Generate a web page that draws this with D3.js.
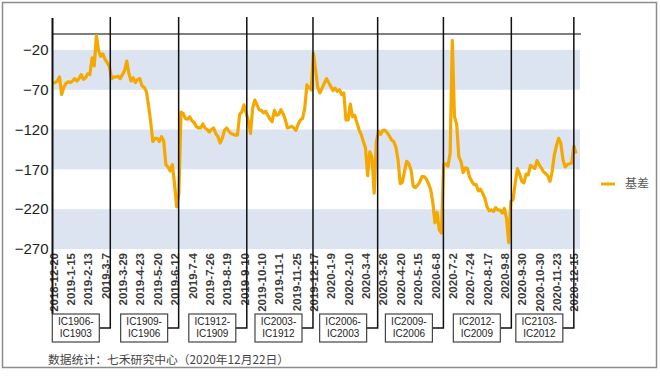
<!DOCTYPE html>
<html>
<head>
<meta charset="utf-8">
<script src="https://cdn.jsdelivr.net/npm/d3@7"></script>
<style>
  body { margin: 0; background: #fff; }
  svg { display: block; }
</style>
</head>
<body>
<script>
// x-axis labels, one every 16 trading days (8 samples)
const tickLabels = [
    "2018-12-20", "2019-1-15", "2019-2-13", "2019-3-7", "2019-3-29", "2019-4-23",
    "2019-5-20", "2019-6-12", "2019-7-4", "2019-7-26", "2019-8-19", "2019-9-10",
    "2019-10-10", "2019-11-1", "2019-11-25", "2019-12-17", "2020-1-9", "2020-2-10",
    "2020-3-4", "2020-3-26", "2020-4-20", "2020-5-15", "2020-6-8", "2020-7-2",
    "2020-7-24", "2020-8-17", "2020-9-8", "2020-9-30", "2020-10-30", "2020-11-23",
    "2020-12-15"
];

// 基差, sampled every 2 trading days
const basis = [
    -61, -61, -59, -54, -76, -67, -62, -60, -61, -59,
    -56, -59, -56, -51, -57, -55, -50, -51, -30, -40,
    -2, -21, -28, -25, -32, -36, -41, -56, -54, -54,
    -53, -56, -51, -46, -34, -50, -59, -55, -61, -57,
    -56, -65, -67, -72, -89, -110, -135, -131, -131, -135,
    -129, -134, -164, -167, -172, -164, -188, -217, -200, -98,
    -100, -106, -107, -104, -109, -111, -116, -118, -118, -113,
    -118, -120, -123, -120, -118, -125, -129, -137, -131, -121,
    -118, -122, -125, -126, -127, -127, -101, -98, -89, -99,
    -109, -125, -93, -83, -89, -95, -96, -99, -97, -102,
    -107, -110, -96, -102, -101, -95, -100, -107, -118, -117,
    -116, -118, -121, -113, -108, -106, -93, -64, -67, -70,
    -24, -45, -67, -74, -68, -62, -56, -61, -66, -71,
    -68, -72, -70, -76, -74, -108, -108, -88, -104, -102,
    -111, -120, -126, -135, -143, -178, -148, -155, -200, -135,
    -122, -126, -121, -121, -124, -128, -133, -135, -142, -158,
    -188, -186, -172, -160, -163, -171, -191, -193, -190, -186,
    -179, -179, -182, -188, -195, -211, -237, -224, -246, -250,
    -164, -163, -166, -150, -8, -104, -113, -154, -160, -174,
    -168, -169, -180, -185, -189, -189, -197, -195, -200, -206,
    -217, -222, -221, -223, -218, -221, -221, -225, -219, -232,
    -262, -210, -208, -187, -169, -176, -185, -187, -176, -177,
    -165, -167, -169, -159, -164, -168, -173, -175, -178, -185,
    -173, -152, -140, -131, -137, -158, -167, -164, -163, -162,
    -141, -150
];

const yTicks = [-20, -70, -120, -170, -220, -270];

// contract roll points (sample index) and the spread that ends there
const rollIdx = [26.4, 57.9, 89.3, 119.8, 149.6, 179.9, 211.2, 240];
const spreads = ["IC1906-IC1903", "IC1909-IC1906", "IC1912-IC1909", "IC2003-IC1912",
                 "IC2006-IC2003", "IC2009-IC2006", "IC2012-IC2009", "IC2103-IC2012"];

const seriesName = "基差";
const source = "数据统计：七禾研究中心（2020年12月22日）";

const orange = "#f4a800";
const band = "#dbe4f0";
const sans = "'Liberation Sans', Arial, sans-serif";

let svg = d3.select("body")
            .append("svg")
            .attr("width", 660)
            .attr("height", 376);

// outer frame
svg.append("rect")
   .attr("x", 2.5).attr("y", 2.5)
   .attr("width", 654).attr("height", 365)
   .style("fill", "#fff")
   .style("stroke", "#8c8c8c")
   .style("stroke-width", 1.5);

const left = 52.5, right = 580;

let x = d3.scaleLinear()
          .domain([0, basis.length - 1])
          .range([53, 576]);
let y = d3.scaleLinear()
          .domain([-270, 0])
          .range([249, 34]);

// alternate blue bands between tick pairs
let bands = [];
for (let i = 0; i < yTicks.length - 1; i += 2) bands.push([yTicks[i], yTicks[i + 1]]);
svg.append("g")
   .selectAll("rect")
   .data(bands)
   .enter()
   .append("rect")
   .attr("x", left)
   .attr("width", right - left)
   .attr("y", d => y(d[0]))
   .attr("height", d => y(d[1]) - y(d[0]))
   .style("fill", band);

// top border at 0
svg.append("line")
   .attr("x1", left).attr("x2", right + 1)
   .attr("y1", y(0)).attr("y2", y(0))
   .style("stroke", "#555")
   .style("stroke-width", 1.5);

// y axis
let yAxis = svg.append("g")
   .attr("transform", "translate(" + left + ",0)")
   .call(d3.axisLeft(y).tickValues(yTicks).tickSize(0).tickPadding(4));
yAxis.select(".domain").remove();
yAxis.selectAll("text")
     .style("font-family", sans)
     .style("font-size", "15px")
     .style("fill", "#222");

// x axis (category labels, rotated)
let xAxis = svg.append("g")
   .attr("transform", "translate(0," + y(-270) + ")")
   .call(d3.axisBottom(x)
           .tickValues(d3.range(0, basis.length, 8))
           .tickFormat((d, i) => tickLabels[i])
           .tickSize(0));
xAxis.select(".domain").remove();
xAxis.selectAll("text")
     .attr("transform", "rotate(-90)")
     .attr("x", -4)
     .attr("y", 0)
     .attr("dy", "0.36em")
     .style("text-anchor", "end")
     .style("font-family", sans)
     .style("font-size", "11.5px")
     .style("font-weight", "bold")
     .style("fill", "#3a3a3a");

// series
let line = d3.line()
             .x((d, i) => x(i))
             .y(d => y(d));
svg.append("path")
   .datum(basis)
   .attr("d", line)
   .style("fill", "none")
   .style("stroke", orange)
   .style("stroke-width", 3.2)
   .style("stroke-linejoin", "round");

// left axis line, running down to the first box
svg.append("line")
   .attr("x1", left).attr("x2", left)
   .attr("y1", 18).attr("y2", 314)
   .style("stroke", "#111")
   .style("stroke-width", 2);

// roll lines with their spread boxes
const boxW = 47, boxH = 28, boxTop = 314, lineTop = 17;
let notes = svg.append("g")
               .selectAll("g")
               .data(rollIdx.map((k, i) => ({k: k, name: spreads[i]})))
               .enter()
               .append("g");
notes.append("path")
     .style("fill", "none")
     .style("stroke", "#111")
     .style("stroke-width", 1.5)
     .attr("d", d => {
        let lx = x(d.k);
        let cy = boxTop + boxH / 2;
        return "M" + lx + "," + lineTop + " V" + cy + " H" + (lx - 11);
     });
notes.append("rect")
     .attr("x", d => x(d.k) - 11 - boxW)
     .attr("y", boxTop)
     .attr("width", boxW)
     .attr("height", boxH)
     .style("fill", "#fff")
     .style("stroke", "#444")
     .style("stroke-width", 1.2);
notes.each(function(d) {
    let parts = d.name.split("-");
    let cx = x(d.k) - 11 - boxW / 2;
    let t = d3.select(this).append("text")
              .attr("x", cx)
              .attr("y", boxTop + 11)
              .style("text-anchor", "middle")
              .style("font-family", sans)
              .style("font-size", "10px")
              .style("fill", "#222");
    t.append("tspan").attr("x", cx).text(parts[0] + "-");
    t.append("tspan").attr("x", cx).attr("dy", 11.5).text(parts[1]);
});

// legend
svg.append("line")
   .attr("x1", 601).attr("x2", 615)
   .attr("y1", 184).attr("y2", 184)
   .style("stroke", orange)
   .style("stroke-width", 3);
svg.append("text")
   .attr("x", 625).attr("y", 188)
   .text(seriesName)
   .style("font-family", "'Noto Sans CJK SC', sans-serif")
   .style("font-size", "12px")
   .style("fill", "#595959");

// source note
svg.append("text")
   .attr("x", 48).attr("y", 364)
   .text(source)
   .style("font-family", "'Noto Sans CJK SC', sans-serif")
   .style("font-size", "11.8px")
   .style("fill", "#444");
</script>
</body>
</html>
